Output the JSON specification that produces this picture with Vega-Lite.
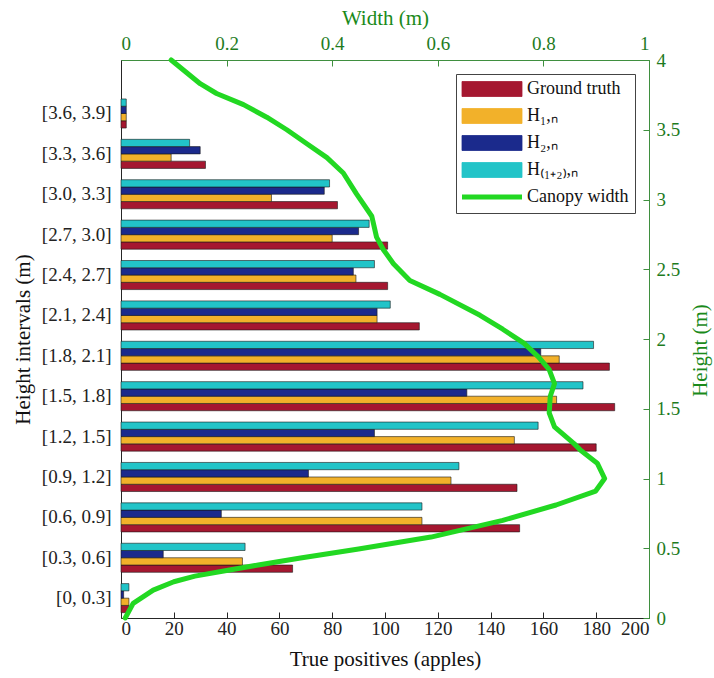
{
  "$schema": "https://vega.github.io/schema/vega-lite/v6.json",
  "width": 528,
  "height": 558,
  "autosize": {"type": "none"},
  "padding": {"left": 121, "top": 60, "right": 65, "bottom": 60},
  "background": "white",
  "config": {
    "font": "Liberation Serif",
    "view": {"stroke": null},
    "axis": {"grid": false, "labelFont": "Liberation Serif", "titleFont": "Liberation Serif", "titleFontWeight": "normal", "labelFontSize": 19, "titleFontSize": 21}
  },
  "datasets": {
    "bars": [
      {"interval": "[0, 0.3]", "series": "Ground truth", "value": 3},
      {"interval": "[0, 0.3]", "series": "H₁,ₙ", "value": 3},
      {"interval": "[0, 0.3]", "series": "H₂,ₙ", "value": 1},
      {"interval": "[0, 0.3]", "series": "H₍₁₊₂₎,ₙ", "value": 3},
      {"interval": "[0.3, 0.6]", "series": "Ground truth", "value": 65},
      {"interval": "[0.3, 0.6]", "series": "H₁,ₙ", "value": 46},
      {"interval": "[0.3, 0.6]", "series": "H₂,ₙ", "value": 16},
      {"interval": "[0.3, 0.6]", "series": "H₍₁₊₂₎,ₙ", "value": 47},
      {"interval": "[0.6, 0.9]", "series": "Ground truth", "value": 151},
      {"interval": "[0.6, 0.9]", "series": "H₁,ₙ", "value": 114},
      {"interval": "[0.6, 0.9]", "series": "H₂,ₙ", "value": 38},
      {"interval": "[0.6, 0.9]", "series": "H₍₁₊₂₎,ₙ", "value": 114},
      {"interval": "[0.9, 1.2]", "series": "Ground truth", "value": 150},
      {"interval": "[0.9, 1.2]", "series": "H₁,ₙ", "value": 125},
      {"interval": "[0.9, 1.2]", "series": "H₂,ₙ", "value": 71},
      {"interval": "[0.9, 1.2]", "series": "H₍₁₊₂₎,ₙ", "value": 128},
      {"interval": "[1.2, 1.5]", "series": "Ground truth", "value": 180},
      {"interval": "[1.2, 1.5]", "series": "H₁,ₙ", "value": 149},
      {"interval": "[1.2, 1.5]", "series": "H₂,ₙ", "value": 96},
      {"interval": "[1.2, 1.5]", "series": "H₍₁₊₂₎,ₙ", "value": 158},
      {"interval": "[1.5, 1.8]", "series": "Ground truth", "value": 187},
      {"interval": "[1.5, 1.8]", "series": "H₁,ₙ", "value": 165},
      {"interval": "[1.5, 1.8]", "series": "H₂,ₙ", "value": 131},
      {"interval": "[1.5, 1.8]", "series": "H₍₁₊₂₎,ₙ", "value": 175},
      {"interval": "[1.8, 2.1]", "series": "Ground truth", "value": 185},
      {"interval": "[1.8, 2.1]", "series": "H₁,ₙ", "value": 166},
      {"interval": "[1.8, 2.1]", "series": "H₂,ₙ", "value": 159},
      {"interval": "[1.8, 2.1]", "series": "H₍₁₊₂₎,ₙ", "value": 179},
      {"interval": "[2.1, 2.4]", "series": "Ground truth", "value": 113},
      {"interval": "[2.1, 2.4]", "series": "H₁,ₙ", "value": 97},
      {"interval": "[2.1, 2.4]", "series": "H₂,ₙ", "value": 97},
      {"interval": "[2.1, 2.4]", "series": "H₍₁₊₂₎,ₙ", "value": 102},
      {"interval": "[2.4, 2.7]", "series": "Ground truth", "value": 101},
      {"interval": "[2.4, 2.7]", "series": "H₁,ₙ", "value": 89},
      {"interval": "[2.4, 2.7]", "series": "H₂,ₙ", "value": 88},
      {"interval": "[2.4, 2.7]", "series": "H₍₁₊₂₎,ₙ", "value": 96},
      {"interval": "[2.7, 3.0]", "series": "Ground truth", "value": 101},
      {"interval": "[2.7, 3.0]", "series": "H₁,ₙ", "value": 80},
      {"interval": "[2.7, 3.0]", "series": "H₂,ₙ", "value": 90},
      {"interval": "[2.7, 3.0]", "series": "H₍₁₊₂₎,ₙ", "value": 94},
      {"interval": "[3.0, 3.3]", "series": "Ground truth", "value": 82},
      {"interval": "[3.0, 3.3]", "series": "H₁,ₙ", "value": 57},
      {"interval": "[3.0, 3.3]", "series": "H₂,ₙ", "value": 77},
      {"interval": "[3.0, 3.3]", "series": "H₍₁₊₂₎,ₙ", "value": 79},
      {"interval": "[3.3, 3.6]", "series": "Ground truth", "value": 32},
      {"interval": "[3.3, 3.6]", "series": "H₁,ₙ", "value": 19},
      {"interval": "[3.3, 3.6]", "series": "H₂,ₙ", "value": 30},
      {"interval": "[3.3, 3.6]", "series": "H₍₁₊₂₎,ₙ", "value": 26},
      {"interval": "[3.6, 3.9]", "series": "Ground truth", "value": 2},
      {"interval": "[3.6, 3.9]", "series": "H₁,ₙ", "value": 2},
      {"interval": "[3.6, 3.9]", "series": "H₂,ₙ", "value": 2},
      {"interval": "[3.6, 3.9]", "series": "H₍₁₊₂₎,ₙ", "value": 2}
    ],
    "canopy": [
      {"width": 0.095, "height": 4.0},
      {"width": 0.150, "height": 3.83},
      {"width": 0.181, "height": 3.76},
      {"width": 0.232, "height": 3.68},
      {"width": 0.276, "height": 3.59},
      {"width": 0.314, "height": 3.50},
      {"width": 0.352, "height": 3.40},
      {"width": 0.390, "height": 3.30},
      {"width": 0.421, "height": 3.19},
      {"width": 0.446, "height": 3.04},
      {"width": 0.475, "height": 2.88},
      {"width": 0.484, "height": 2.73},
      {"width": 0.497, "height": 2.64},
      {"width": 0.516, "height": 2.54},
      {"width": 0.547, "height": 2.42},
      {"width": 0.604, "height": 2.32},
      {"width": 0.680, "height": 2.17},
      {"width": 0.723, "height": 2.07},
      {"width": 0.763, "height": 1.97},
      {"width": 0.791, "height": 1.87},
      {"width": 0.811, "height": 1.78},
      {"width": 0.821, "height": 1.68},
      {"width": 0.813, "height": 1.59},
      {"width": 0.811, "height": 1.47},
      {"width": 0.821, "height": 1.37},
      {"width": 0.858, "height": 1.25},
      {"width": 0.871, "height": 1.20},
      {"width": 0.902, "height": 1.11},
      {"width": 0.916, "height": 1.00},
      {"width": 0.899, "height": 0.91},
      {"width": 0.824, "height": 0.81},
      {"width": 0.723, "height": 0.70},
      {"width": 0.587, "height": 0.58},
      {"width": 0.450, "height": 0.495},
      {"width": 0.340, "height": 0.43},
      {"width": 0.260, "height": 0.38},
      {"width": 0.200, "height": 0.34},
      {"width": 0.140, "height": 0.30},
      {"width": 0.100, "height": 0.26},
      {"width": 0.061, "height": 0.20},
      {"width": 0.023, "height": 0.105},
      {"width": 0.008, "height": 0.0}
    ]
  },
  "layer": [
    {
      "data": {"name": "bars"},
      "mark": {"type": "bar", "stroke": "#1a1a1a", "strokeWidth": 0.6},
      "encoding": {
        "y": {
          "field": "interval", "type": "nominal",
          "sort": ["[3.6, 3.9]", "[3.3, 3.6]", "[3.0, 3.3]", "[2.7, 3.0]", "[2.4, 2.7]", "[2.1, 2.4]", "[1.8, 2.1]", "[1.5, 1.8]", "[1.2, 1.5]", "[0.9, 1.2]", "[0.6, 0.9]", "[0.3, 0.6]", "[0, 0.3]"],
          "scale": {"paddingInner": 0.28, "paddingOuter": 0.548, "align": 0.88},
          "axis": {"title": "Height intervals (m)", "ticks": false, "labelPadding": 10, "titlePadding": 8, "domainColor": "#262626", "labelColor": "#222", "titleColor": "#111"}
        },
        "yOffset": {
          "field": "series", "type": "nominal",
          "sort": ["H₍₁₊₂₎,ₙ", "H₂,ₙ", "H₁,ₙ", "Ground truth"],
          "scale": {"paddingInner": 0, "paddingOuter": 0}
        },
        "x": {
          "field": "value", "type": "quantitative",
          "scale": {"domain": [0, 200], "nice": false},
          "axis": {"title": "True positives (apples)", "values": [0, 20, 40, 60, 80, 100, 120, 140, 160, 180, 200], "tickSize": -6, "labelPadding": 7, "titlePadding": 10, "domainColor": "#262626", "tickColor": "#262626", "labelColor": "#222", "titleColor": "#111"}
        },
        "color": {
          "field": "series", "type": "nominal",
          "scale": {"domain": ["Ground truth", "H₁,ₙ", "H₂,ₙ", "H₍₁₊₂₎,ₙ", "Canopy width"], "range": ["#A51730", "#F2B12A", "#1B2A8C", "#22C4C8", "#22D822"]},
          "legend": {
            "title": null, "orient": "none", "legendX": 335, "legendY": 14,
            "symbolType": "M-1,-0.25H1V0.25H-1Z", "symbolSize": 3600,
            "labelFont": "Liberation Serif", "labelFontSize": 18, "labelColor": "#111", "labelOffset": 5,
            "fillColor": "white", "strokeColor": "#444", "padding": 6, "rowPadding": 7, "cornerRadius": 0,
            "symbolStrokeColor": "#222", "symbolStrokeWidth": 0.8, "symbolOpacity": 1,
            "encode": {
              "symbols": {
                "update": {
                  "x": {"value": 30},
                  "shape": {"signal": "datum.value === 'Canopy width' ? 'stroke' : 'M-1,-0.25H1V0.25H-1Z'"},
                  "stroke": {"signal": "datum.value === 'Canopy width' ? '#22D822' : '#222'"},
                  "strokeWidth": {"signal": "datum.value === 'Canopy width' ? 5 : 0.8"},
                  "fill": {"signal": "scale('color', datum.value)"},
                  "opacity": {"value": 1}
                }
              },
              "labels": {
                "update": {
                  "x": {"value": 65}
                }
              }
            }
          }
        }
      }
    },
    {
      "data": {"name": "canopy"},
      "mark": {"type": "line", "strokeWidth": 5, "strokeCap": "round", "strokeJoin": "round"},
      "encoding": {
        "x": {
          "field": "width", "type": "quantitative",
          "scale": {"domain": [0, 1], "nice": false},
          "axis": {"orient": "top", "title": "Width (m)", "values": [0, 0.2, 0.4, 0.6, 0.8, 1], "format": "~g", "tickSize": -6, "labelPadding": 13, "titlePadding": 6, "domainColor": "#3f8f3f", "tickColor": "#3f8f3f", "labelColor": "#1e7b1e", "titleColor": "#1a8a1a"}
        },
        "y": {
          "field": "height", "type": "quantitative",
          "scale": {"domain": [0, 4], "nice": false},
          "axis": {"orient": "right", "title": "Height (m)", "titleAngle": 270, "titleBaseline": "top", "titleY": 290, "values": [0, 0.5, 1, 1.5, 2, 2.5, 3, 3.5, 4], "format": "~g", "tickSize": -6, "labelPadding": 13, "titlePadding": 10, "domainColor": "#3f8f3f", "tickColor": "#3f8f3f", "labelColor": "#1e7b1e", "titleColor": "#1a8a1a"}
        },
        "order": {"field": "height", "type": "quantitative"},
        "color": {"datum": "Canopy width", "type": "nominal"}
      }
    }
  ],
  "resolve": {"scale": {"x": "independent", "y": "independent"}, "axis": {"x": "independent", "y": "independent"}}
}
